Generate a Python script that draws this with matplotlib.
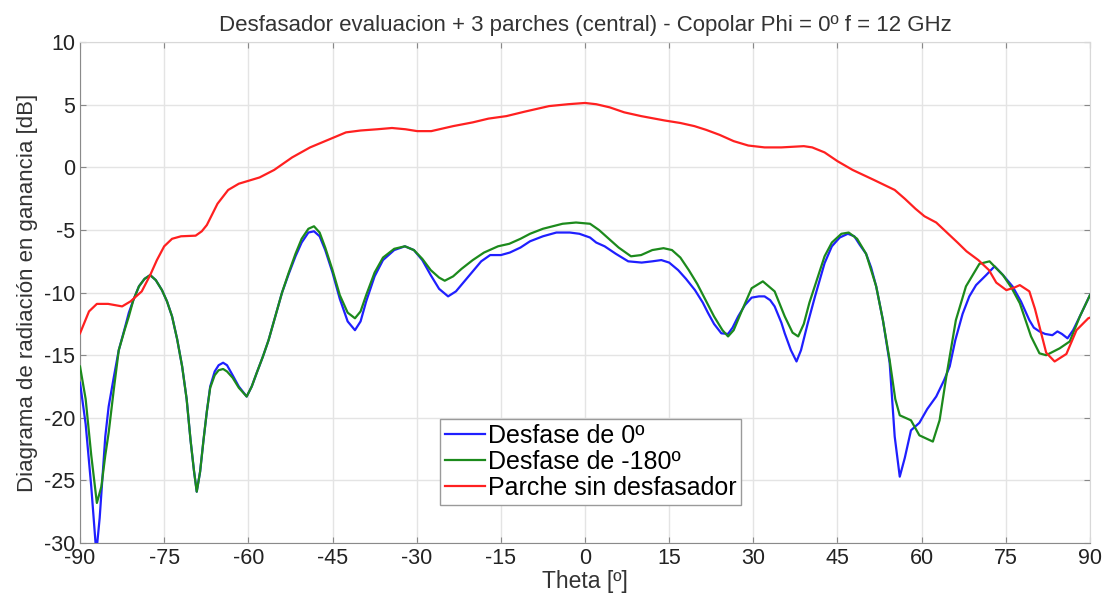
import matplotlib
matplotlib.use("Agg")
import matplotlib.pyplot as plt

plt.rcParams["font.family"] = ["Liberation Sans", "DejaVu Sans"]
plt.rcParams["axes.unicode_minus"] = False

# Desfase de 0º
theta_0 = [-90, -89, -88, -87.1, -86.5, -85.5, -84.9, -84, -83.1, -82, -81.3, -80.5, -79.5, -78.5,
           -77.5, -76.5, -75.4, -74.5, -73.6, -72.7, -71.8, -71, -70.3, -69.7, -69.2, -68.6, -68.0,
           -67.4, -66.8, -66, -65.3, -64.5, -63.8, -62.8, -61.7, -60.3, -59.4, -58.5, -57.4, -56.4,
           -55.2, -54.0, -52.8, -51.6, -50.5, -49.3, -48.3, -47.3, -46.3, -45.0, -43.7, -42.3, -41.0,
           -40.0, -39.0, -37.5, -36, -34, -32.1, -30.5, -29, -27.5, -26, -24.4, -23, -21.5, -20,
           -18.5, -16.9, -15, -13.4, -11.5, -9.8, -7.5, -5.1, -2.7, -1, 0.9, 2, 3.5, 5.5, 7.7, 10.1,
           12, 13.6, 15, 16.6, 18, 19.6, 21, 21.9, 23, 24.3, 25.5, 26.3, 27.3, 28.5, 29.7, 31, 32, 33,
           33.8, 35, 35.6, 36.7, 37.7, 38.5, 39.7, 41, 42.7, 44, 45.4, 46.85, 48, 49, 50.1, 51, 51.9,
           53.1, 54.3, 55.2, 56.1, 57, 58.1, 59.6, 61, 62.6, 64, 65.0, 66, 67.3, 68.5, 69.7, 71.5,
           73.0, 74.5, 76.2, 77.7, 79.2, 80, 81.0, 82, 83.3, 84.2, 85, 86.0, 87, 88.2, 90]
gain_0 = [-17.2, -20.5, -25.5, -30.8, -28, -21.5, -19.1, -16.8, -14.6, -12.8, -11.6, -10.6, -9.5, -8.9,
          -8.6, -9.0, -9.8, -10.7, -11.9, -13.7, -15.9, -18.5, -21.8, -24.2, -25.9, -24.3, -21.8,
          -19.5, -17.5, -16.3, -15.8, -15.6, -15.8, -16.6, -17.5, -18.3, -17.5, -16.4, -15.1, -13.8,
          -11.9, -10.0, -8.5, -7.1, -6.0, -5.2, -5.1, -5.5, -6.6, -8.4, -10.5, -12.3, -13.0,
          -12.3, -10.7, -8.7, -7.4, -6.6, -6.3, -6.6, -7.4, -8.6, -9.7, -10.3, -9.9, -9.1, -8.3,
          -7.5, -7.0, -7.0, -6.8, -6.4, -5.9, -5.5, -5.2, -5.2, -5.3, -5.6, -6.0, -6.3, -6.9, -7.5, -7.6,
          -7.5, -7.4, -7.6, -8.2, -8.9, -9.8, -10.8, -11.6, -12.5, -13.25, -13.3, -12.8, -11.9, -11.0,
          -10.4, -10.3, -10.3, -10.6, -11.1, -12.4, -13.25, -14.6, -15.5, -14.6, -12.45, -10.3, -7.65,
          -6.3, -5.6, -5.3, -5.5, -6.2, -6.9, -8.0, -9.5, -12.2, -15.6, -21.5, -24.7, -23.2, -21.0,
          -20.4, -19.3, -18.3, -17.0, -15.9, -13.8, -11.7, -10.3, -9.4, -8.6, -7.9, -8.6, -9.5, -10.7,
          -12.2, -12.8, -13.1, -13.3, -13.4, -13.1, -13.3, -13.65, -13.0, -11.9, -10.2]

# Desfase de -180º
theta_180 = [-90, -89, -88, -87.0, -86.2, -85.5, -84.9, -84, -83.1, -82, -81.3, -80.5, -79.5, -78.5,
             -77.5, -76.5, -75.4, -74.5, -73.6, -72.7, -71.8, -71, -70.3, -69.7, -69.2, -68.6, -68.0,
             -67.4, -66.8, -66, -65.3, -64.5, -63.8, -62.8, -61.7, -60.3, -59.4, -58.5, -57.4, -56.4,
             -55.2, -54.0, -52.8, -51.6, -50.5, -49.3, -48.3, -47.3, -46.3, -45, -43.7, -42.3, -41.0,
             -40, -39, -37.5, -36, -34, -32.1, -30.5, -29, -27.5, -26, -25.0, -23.5, -22, -20, -18,
             -16, -15.5, -13.5, -11.5, -9.8, -7.5, -4.0, -1.6, 0.9, 2.5, 4, 6, 8.2, 10, 12, 14, 15.5,
             17, 18.5, 20, 21.5, 23, 24.5, 25.5, 26.5, 28, 29.7, 31.7, 33, 33.8, 35.6, 37, 38, 39, 40,
             42.7, 44, 45.7, 47.0, 48.5, 50.1, 51.9, 53.1, 54.3, 55.3, 56.1, 58.1, 59.6, 62.0, 63.2,
             64.4, 66.1, 67.9, 70.3, 72.1, 74.5, 76, 77.5, 79.5, 81.0, 82.2, 84.6, 86.4, 88.2, 90]
gain_180 = [-15.9, -18.5, -23, -26.8, -25.5, -23, -21.2, -17.8, -14.6, -12.9, -11.9, -10.6, -9.5, -8.9,
            -8.6, -9.0, -9.8, -10.7, -11.9, -13.7, -15.9, -18.5, -21.8, -24.2, -25.9, -24.3, -21.8,
            -19.5, -17.6, -16.6, -16.2, -16.1, -16.3, -16.8, -17.6, -18.3, -17.5, -16.4, -15.1, -13.8,
            -11.9, -10.0, -8.4, -6.9, -5.7, -4.9, -4.7, -5.2, -6.4, -8.2, -10.2, -11.6, -12.05,
            -11.5, -10.2, -8.4, -7.2, -6.5, -6.3, -6.6, -7.3, -8.2, -8.8, -9.05, -8.7, -8.1, -7.4, -6.8,
            -6.4, -6.3, -6.1, -5.7, -5.3, -4.9, -4.5, -4.4, -4.5, -5.0, -5.6, -6.4, -7.1, -7.0, -6.6,
            -6.45, -6.6, -7.2, -8.2, -9.3, -10.6, -11.9, -13.0, -13.5, -13.0, -11.4, -9.65, -9.1, -9.6,
            -9.9, -11.9, -13.2, -13.5, -12.5, -10.8, -7.1, -6.0, -5.3, -5.2, -5.7, -6.9, -9.5, -12.2,
            -15.4, -18.5, -19.8, -20.2, -21.4, -21.9, -20.2, -16.7, -12.2, -9.5, -7.7, -7.5, -8.6,
            -9.6, -10.85, -13.5, -14.85, -15.0, -14.45, -13.9, -11.9, -10.2]

# Parche sin desfasador
theta_ref = [-90, -88.4, -87, -85, -82.5, -81, -79, -77.5, -76.3, -75, -73.6, -72, -69.4, -68.3,
             -67.4, -65.5, -63.6, -61.7, -58, -55.4, -52.2, -49, -45.8, -42.6, -40, -37, -34.4, -32,
             -29.9, -27.4, -23.5, -20, -17.2, -14, -10.8, -6.4, -3, 0, 2, 4.4, 7, 10, 14.2, 17, 19.5,
             21.6, 24, 26.5, 29.1, 32, 35, 39, 40.5, 42.7, 45, 47.7, 51.5, 55.2, 57, 58.9, 60.5, 62.6,
             64.5, 66.4, 68, 70.1, 72, 73.3, 75.1, 76.5, 77.5, 79.2, 80.2, 81, 82.2, 83.7, 85.8, 87.6,
             89.7, 90]
gain_ref = [-13.25, -11.5, -10.9, -10.9, -11.1, -10.7, -9.9, -8.6, -7.4, -6.3, -5.7, -5.5, -5.45, -5.1,
            -4.6, -2.9, -1.8, -1.3, -0.8, -0.2, 0.8, 1.6, 2.2, 2.8, 2.95, 3.05, 3.15, 3.05,
            2.9, 2.9, 3.3, 3.6, 3.9, 4.1, 4.45, 4.9, 5.05, 5.15, 5.05, 4.8, 4.4, 4.1, 3.75, 3.55, 3.3,
            3.0, 2.6, 2.1, 1.75, 1.6, 1.6, 1.7, 1.6, 1.2, 0.5, -0.2, -1.0, -1.8, -2.5, -3.3, -3.9, -4.4,
            -5.2, -6.0, -6.7, -7.4, -8.2, -9.2, -9.8, -9.6, -9.4, -9.9, -11.3, -12.7, -14.8, -15.5,
            -14.9, -13.0, -12.05, -12.0]

x_ticks = list(range(-90, 91, 15))
y_ticks = list(range(-30, 11, 5))

fig = plt.figure(figsize=(11.07, 5.95), dpi=100)
ax = fig.add_axes([0.0723, 0.0874, 0.9123, 0.8416])

ax.plot(theta_0, gain_0, color="#1f1fff", lw=1.6, label="Desfase de 0º", zorder=3)
ax.plot(theta_180, gain_180, color="#1c8a1c", lw=1.6, label="Desfase de -180º", zorder=4)
ax.plot(theta_ref, gain_ref, color="#ff2020", lw=1.6, label="Parche sin desfasador", zorder=5)

ax.set_xlim(-90, 90)
ax.set_ylim(-30, 10)
ax.set_xticks(x_ticks)
ax.set_yticks(y_ticks)
ax.grid(True, color="#e4e4e4", lw=1.0)
ax.set_axisbelow(True)
ax.tick_params(direction="in", length=4, labelsize=15.5, colors="#888888", labelcolor="#222222",
               top=True, right=True)
for side in ["left", "bottom"]:
    ax.spines[side].set_color("#8a8a8a")
for side in ["top", "right"]:
    ax.spines[side].set_color("#d8d8d8")

ax.set_title("Desfasador evaluacion + 3 parches (central) - Copolar Phi = 0º f = 12 GHz",
             fontsize=16, color="#333333", pad=8)
ax.set_xlabel("Theta [º]", fontsize=16.5, color="#333333", labelpad=1)
ax.set_ylabel("Diagrama de radiación en ganancia [dB]", fontsize=16, color="#333333", labelpad=4)

leg = ax.legend(loc="lower left", bbox_to_anchor=(0.356, 0.076), fontsize=18, frameon=True,
                fancybox=False, framealpha=1, edgecolor="#9a9a9a", handlelength=1.6,
                handletextpad=0.12, borderpad=0.2, labelspacing=0.08, borderaxespad=0)
leg.get_frame().set_linewidth(1.0)

fig.savefig("out.png", dpi=100)
